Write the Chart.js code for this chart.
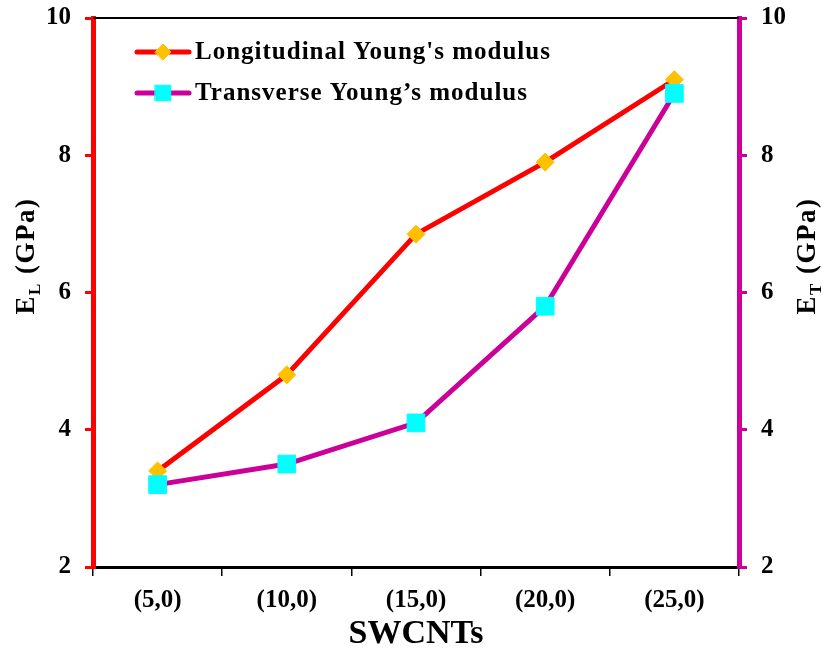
<!DOCTYPE html>
<html>
<head>
<meta charset="utf-8">
<script src="https://cdn.jsdelivr.net/npm/chart.js@4.4.0/dist/chart.umd.min.js"></script>
<style>
  html, body { margin: 0; padding: 0; background: #fff; }
  #wrap { width: 823px; height: 655px; }
</style>
</head>
<body>
<div id="wrap"><canvas id="myChart"></canvas></div>
<script>
const categories = ['(5,0)', '(10,0)', '(15,0)', '(20,0)', '(25,0)'];
const longitudinal = [3.4, 4.8, 6.85, 7.9, 9.1];
const transverse = [3.2, 3.5, 4.1, 5.8, 8.9];
const seriesNames = ["Longitudinal Young's modulus", "Transverse Young\u2019s modulus"];
const yMin = 2, yMax = 10, yStep = 2;

const RED = '#FF0000';
const MAGENTA = '#CC0099';
const FONT = "'Liberation Serif', 'Times New Roman', serif";

// top frame line, y-axis titles with subscripts, and the line+marker legend
const customDraw = {
  id: 'customDraw',
  afterDatasetsDraw(chart) {
    const ctx = chart.ctx;
    const a = chart.chartArea;
    ctx.save();
    ctx.strokeStyle = '#000';
    ctx.lineWidth = 2;
    ctx.beginPath();
    ctx.moveTo(a.left, a.top);
    ctx.lineTo(a.right, a.top);
    ctx.stroke();
    ctx.restore();
  },
  afterDraw(chart) {
    const ctx = chart.ctx;

    function vTitle(x, y, main, sub, rest) {
      ctx.save();
      ctx.translate(x, y);
      ctx.rotate(-Math.PI / 2);
      ctx.fillStyle = '#000';
      ctx.textBaseline = 'alphabetic';
      ctx.letterSpacing = '1.5px';
      const big = 'bold 27px ' + FONT;
      const small = 'bold 17px ' + FONT;
      ctx.font = big;
      const w1 = ctx.measureText(main).width;
      const w3 = ctx.measureText(rest).width;
      ctx.font = small;
      const w2 = ctx.measureText(sub).width;
      let cx = -(w1 + w2 + w3) / 2;
      ctx.font = big;
      ctx.fillText(main, cx, 0);
      cx += w1;
      ctx.font = small;
      ctx.fillText(sub, cx, 6);
      cx += w2;
      ctx.font = big;
      ctx.fillText(rest, cx, 0);
      ctx.restore();
    }
    vTitle(34, 256, 'E', 'L', ' (GPa)');
    vTitle(815, 256, 'E', 'T', ' (GPa)');

    // legend
    const order = [0, 1];
    order.forEach((di, i) => {
      const ds = chart.data.datasets[di];
      const y = 52 + i * 41;
      ctx.save();
      ctx.strokeStyle = ds.borderColor;
      ctx.lineWidth = 5;
      ctx.lineCap = 'round';
      ctx.beginPath();
      ctx.moveTo(137, y);
      ctx.lineTo(189, y);
      ctx.stroke();
      ctx.fillStyle = ds.pointBackgroundColor;
      ctx.strokeStyle = ds.pointBorderColor;
      ctx.lineWidth = 1;
      Chart.helpers.drawPoint(ctx, {
        pointStyle: ds.pointStyle,
        radius: ds.pointStyle === 'rect' ? 11 : 8,
        rotation: 0,
        borderWidth: 1
      }, 163, y);
      ctx.fillStyle = '#000';
      ctx.font = 'bold 25px ' + FONT;
      ctx.letterSpacing = '1px';
      ctx.textBaseline = 'middle';
      ctx.fillText(ds.label, 195, y + 1);
      ctx.restore();
    });
  }
};

// fixed axis sizes; drop the label overhang padding so the plot can reach the top
function fitY(width) {
  return function (scale) {
    scale.width = width;
    scale.paddingTop = 0;
    scale.paddingBottom = 0;
  };
}

const ctx = document.getElementById('myChart').getContext('2d');
new Chart(ctx, {
  type: 'line',
  data: {
    labels: categories,
    datasets: [
      {
        label: seriesNames[0],
        data: longitudinal,
        yAxisID: 'y',
        borderColor: RED,
        borderWidth: 5,
        pointStyle: 'rectRot',
        pointRadius: 9,
        pointBackgroundColor: '#FFC000',
        pointBorderColor: '#FFC000',
        pointBorderWidth: 1,
        tension: 0,
        order: 1
      },
      {
        label: seriesNames[1],
        data: transverse,
        yAxisID: 'y1',
        borderColor: MAGENTA,
        borderWidth: 5,
        pointStyle: 'rect',
        pointRadius: 12.5,
        pointBackgroundColor: '#00FFFF',
        pointBorderColor: '#00FFFF',
        pointBorderWidth: 1,
        tension: 0,
        order: 0
      }
    ]
  },
  options: {
    responsive: true,
    maintainAspectRatio: false,
    animation: false,
    layout: { padding: { top: 18, left: 0, right: 0, bottom: 0 } },
    plugins: {
      legend: { display: false },
      tooltip: { enabled: false },
      title: { display: false }
    },
    scales: {
      x: {
        type: 'category',
        position: 'bottom',
        offset: true,
        grid: {
          offset: true,
          drawOnChartArea: false,
          drawTicks: true,
          tickLength: 9,
          color: '#000',
          lineWidth: 1.5
        },
        border: { color: '#000', width: 3 },
        ticks: {
          color: '#000',
          font: { family: FONT, size: 25, weight: 'bold' },
          padding: 10,
          maxRotation: 0
        },
        title: {
          display: true,
          text: 'SWCNTs',
          color: '#000',
          font: { family: FONT, size: 34, weight: 'bold' },
          padding: { top: 2, bottom: 0 }
        },
        afterFit(scale) {
          scale.height = 88;
          scale.paddingLeft = 0;
          scale.paddingRight = 0;
        }
      },
      y: {
        position: 'left',
        min: yMin,
        max: yMax,
        grid: {
          drawOnChartArea: false,
          drawTicks: true,
          tickLength: 8,
          color: RED,
          lineWidth: 3
        },
        border: { color: RED, width: 5 },
        ticks: {
          stepSize: yStep,
          color: '#000',
          font: { family: FONT, size: 25, weight: 'bold' },
          padding: 14
        },
        afterFit: fitY(93)
      },
      y1: {
        position: 'right',
        min: yMin,
        max: yMax,
        grid: {
          drawOnChartArea: false,
          drawTicks: true,
          tickLength: 8,
          color: MAGENTA,
          lineWidth: 3
        },
        border: { color: MAGENTA, width: 5 },
        ticks: {
          stepSize: yStep,
          color: '#000',
          font: { family: FONT, size: 25, weight: 'bold' },
          padding: 14
        },
        afterFit: fitY(84)
      }
    }
  },
  plugins: [customDraw]
});
</script>
</body>
</html>
